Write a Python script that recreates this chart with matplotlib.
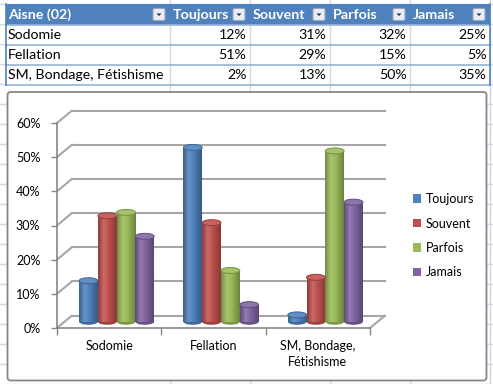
import textwrap
import numpy as np
import matplotlib
matplotlib.use('Agg')
import matplotlib.pyplot as plt
from matplotlib import transforms as mtransforms
from matplotlib.patches import Rectangle, Ellipse, Patch, FancyBboxPatch, Polygon, ConnectionPatch
from matplotlib.colors import LinearSegmentedColormap, to_rgb

plt.rcParams['font.family'] = ['Lato', 'DejaVu Sans']

# data
table_title = 'Aisne (02)'
categories = ['Sodomie', 'Fellation', 'SM, Bondage, Fétishisme']
series = ['Toujours', 'Souvent', 'Parfois', 'Jamais']
toujours = [12, 51, 2]
souvent = [31, 29, 13]
parfois = [32, 15, 50]
jamais = [25, 5, 35]
values = [toujours, souvent, parfois, jamais]
colors = ['#4F81BD', '#C0504D', '#9BBB59', '#8064A2']
yticks = [0, 10, 20, 30, 40, 50, 60]

W, H = 493, 384
fig = plt.figure(figsize=(W / 100, H / 100), dpi=100)
fig.patch.set_facecolor('white')

# ---- spreadsheet background + table (pixel coords) ----
bg = fig.add_axes([0, 0, 1, 1], zorder=0)
bg.set_xlim(0, W)
bg.set_ylim(H, 0)
bg.axis('off')

grid_c = '#D0D7E5'
col_edges = [5.5, 170, 250, 330, 410, 490]
for x in col_edges[1:]:
    bg.axvline(x, color=grid_c, lw=1, zorder=1)
for y in np.arange(3.5, H, 20):
    bg.axhline(y, color=grid_c, lw=1, zorder=1)

row_edges = [4, 25, 45, 65, 84.5]
bg.add_patch(Rectangle((col_edges[0], row_edges[0]), col_edges[-1] - col_edges[0],
                       row_edges[1] - row_edges[0], facecolor='#4F81BD', edgecolor='none',
                       zorder=2))
bg.add_patch(Rectangle((col_edges[0], row_edges[1]), col_edges[-1] - col_edges[0],
                       row_edges[-1] - row_edges[1], facecolor='white', edgecolor='none',
                       zorder=2))
for x in col_edges[1:-1]:
    bg.plot([x, x], [row_edges[1], row_edges[-1]], color='#D9D9D9', lw=1, zorder=3)
for y in row_edges[1:]:
    bg.plot([col_edges[0], col_edges[-1]], [y, y], color='#95B3D7', lw=1.2, zorder=3)
bg.plot([col_edges[0], col_edges[0]], [row_edges[0], row_edges[-1]], color='#4F81BD', lw=1.2,
        zorder=3)
bg.plot([col_edges[-1], col_edges[-1]], [row_edges[0], row_edges[-1]], color='#4F81BD', lw=1.2,
        zorder=3)

headers = [table_title] + series
for j, htxt in enumerate(headers):
    x0, x1 = col_edges[j], col_edges[j + 1]
    bg.text(x0 + 2.5, 15, htxt, color='white', fontsize=10.3, fontweight='bold',
            va='center', ha='left', zorder=4)
    # dropdown button
    bg.add_patch(FancyBboxPatch((x1 - 17, 8.5), 12, 12, boxstyle='round,pad=0,rounding_size=1.5',
                                facecolor='#E9EDF5', edgecolor='#9AA6BD', lw=0.8, zorder=4))
    bg.add_patch(Polygon([[x1 - 13.5, 13.5], [x1 - 8.5, 13.5], [x1 - 11, 16]],
                         closed=True, facecolor='#1F2F4F', edgecolor='none', zorder=5))

for i, cat in enumerate(categories):
    yc = (row_edges[i + 1] + row_edges[i + 2]) / 2
    bg.text(col_edges[0] + 2.5, yc, cat, fontsize=10.2, va='center', ha='left', color='black',
            zorder=4)
    for j, vals in enumerate(values):
        bg.text(col_edges[j + 2] - 3.5, yc, f'{vals[i]}%', fontsize=10.2, va='center',
                ha='right', color='black', zorder=4)

# chart frame
bg.add_patch(FancyBboxPatch((7.5, 92), 479, 288.5, boxstyle='round,pad=0,rounding_size=3',
                            facecolor='white', edgecolor='#868686', lw=1.3, zorder=6))

# ---- 3D-like column chart ----
ax = fig.add_axes([57 / W, 56 / H, 313 / W, 205 / H], zorder=1)
ax.set_facecolor('none')
ax.set_xlim(0, 3)
ax.set_ylim(0, 60)

DX, DY = 15, 12.5
back = mtransforms.offset_copy(ax.transData, fig=fig, x=DX, y=DY, units='dots')
mid = mtransforms.offset_copy(ax.transData, fig=fig, x=DX / 2, y=DY / 2, units='dots')

wall_c = '#A6A6A6'
for v in yticks:
    ax.plot([0, 3], [v, v], transform=back, color=wall_c, lw=1.5, clip_on=False, zorder=1)
    ax.add_artist(ConnectionPatch(xyA=(0, v), coordsA=ax.transData, xyB=(0, v), coordsB=back,
                                  color=wall_c, lw=1.5, zorder=1))
ax.add_artist(ConnectionPatch(xyA=(3, 0), coordsA=ax.transData, xyB=(3, 0), coordsB=back,
                              color=wall_c, lw=1.5, zorder=1))


def shade(c, f):
    r = np.array(to_rgb(c))
    if f >= 1:
        return tuple(r + (1 - r) * (f - 1))
    return tuple(r * f)


bw = 0.18
ax_h_px = 205
eh = 6 / (ax_h_px / 60)
for k, (vals, c) in enumerate(zip(values, colors)):
    cm = LinearSegmentedColormap.from_list(
        'cyl', [(0, shade(c, 0.74)), (0.3, shade(c, 1.15)), (0.55, shade(c, 1.0)),
                (1, shade(c, 0.7))])
    for i, v in enumerate(vals):
        x0 = i + 0.5 - 2 * bw + k * bw
        ax.add_patch(Ellipse((x0 + bw / 2, 0), bw, eh, transform=mid, facecolor=shade(c, 0.8),
                             edgecolor='none', zorder=3))
        ax.imshow(np.linspace(0, 1, 64)[None, :], cmap=cm, extent=(x0, x0 + bw, 0, v),
                  transform=mid, aspect='auto', interpolation='bilinear', zorder=3.1)
        ax.add_patch(Ellipse((x0 + bw / 2, v), bw, eh, transform=mid, facecolor=shade(c, 1.1),
                             edgecolor=shade(c, 0.78), lw=0.7, zorder=3.2))

ax.set_xlim(0, 3)
ax.set_ylim(0, 60)
ax.set_yticks(yticks)
ax.set_yticklabels([f'{v}%' for v in yticks])
ax.set_xticks([0.5, 1.5, 2.5])
ax.set_xticklabels([textwrap.fill(c, 12) for c in categories], linespacing=1.4)
ax.set_xticks([0, 1, 2, 3], minor=True)
ax.tick_params(axis='x', which='major', length=0, pad=9, labelsize=9)
ax.tick_params(axis='x', which='minor', length=5, color='#868686', width=1)
ax.tick_params(axis='y', length=4, color='#868686', width=1, pad=8, labelsize=9)
for s in ['top', 'right']:
    ax.spines[s].set_visible(False)
for s in ['left', 'bottom']:
    ax.spines[s].set_color('#868686')
    ax.spines[s].set_linewidth(1.2)

handles = [Patch(facecolor=c, edgecolor='none', label=s) for s, c in zip(series, colors)]
fig.legend(handles=handles, loc='upper left', bbox_to_anchor=(413 / W, 1 - 193 / H),
           frameon=False, fontsize=9, handlelength=0.65, handleheight=0.65,
           handletextpad=0.35, labelspacing=1.0, borderpad=0, borderaxespad=0)

fig.savefig('out.png', dpi=100)
